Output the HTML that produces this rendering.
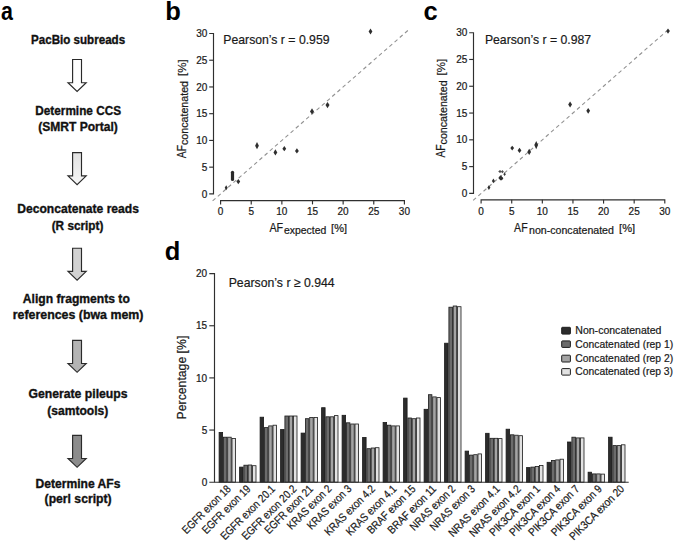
<!DOCTYPE html>
<html><head><meta charset="utf-8"><style>
html,body{margin:0;padding:0;background:#fff;}
svg{display:block;}
text{font-family:"Liberation Sans", sans-serif;}
</style></head><body>
<svg width="675" height="542" viewBox="0 0 675 542" font-family='"Liberation Sans", sans-serif'><text transform="translate(1.0,19.9) scale(0.84,1)" font-size="25.5" font-weight="bold" fill="#000">a</text>
<text x="165.20" y="20.10" font-size="25.5" font-weight="bold" fill="#000" >b</text>
<text x="423.60" y="20.30" font-size="25.5" font-weight="bold" fill="#000" >c</text>
<text x="164.80" y="259.90" font-size="25.5" font-weight="bold" fill="#000" >d</text>
<text x="31.10" y="43.80" font-size="12.3" textLength="94.00" lengthAdjust="spacingAndGlyphs" font-weight="bold" stroke="#111" stroke-width="0.35" fill="#111" >PacBio subreads</text>
<text x="35.30" y="114.60" font-size="12.3" textLength="85.70" lengthAdjust="spacingAndGlyphs" font-weight="bold" stroke="#111" stroke-width="0.35" fill="#111" >Determine CCS</text>
<text x="38.20" y="131.00" font-size="12.3" textLength="79.60" lengthAdjust="spacingAndGlyphs" font-weight="bold" stroke="#111" stroke-width="0.35" fill="#111" >(SMRT Portal)</text>
<text x="17.30" y="212.70" font-size="12.3" textLength="121.60" lengthAdjust="spacingAndGlyphs" font-weight="bold" stroke="#111" stroke-width="0.35" fill="#111" >Deconcatenate reads</text>
<text x="51.70" y="230.00" font-size="12.3" textLength="51.70" lengthAdjust="spacingAndGlyphs" font-weight="bold" stroke="#111" stroke-width="0.35" fill="#111" >(R script)</text>
<text x="22.80" y="303.30" font-size="12.3" textLength="107.00" lengthAdjust="spacingAndGlyphs" font-weight="bold" stroke="#111" stroke-width="0.35" fill="#111" >Align fragments to</text>
<text x="12.80" y="319.40" font-size="12.3" textLength="130.60" lengthAdjust="spacingAndGlyphs" font-weight="bold" stroke="#111" stroke-width="0.35" fill="#111" >references (bwa mem)</text>
<text x="28.40" y="397.70" font-size="12.3" textLength="99.20" lengthAdjust="spacingAndGlyphs" font-weight="bold" stroke="#111" stroke-width="0.35" fill="#111" >Generate pileups</text>
<text x="47.30" y="414.60" font-size="12.3" textLength="61.00" lengthAdjust="spacingAndGlyphs" font-weight="bold" stroke="#111" stroke-width="0.35" fill="#111" >(samtools)</text>
<text x="35.50" y="487.80" font-size="12.3" textLength="85.00" lengthAdjust="spacingAndGlyphs" font-weight="bold" stroke="#111" stroke-width="0.35" fill="#111" >Determine AFs</text>
<text x="44.60" y="503.30" font-size="12.3" textLength="67.00" lengthAdjust="spacingAndGlyphs" font-weight="bold" stroke="#111" stroke-width="0.35" fill="#111" >(perl script)</text>
<defs><linearGradient id="g2" x1="0" y1="0" x2="0" y2="1"><stop offset="0" stop-color="#e2e2e2"/><stop offset="1" stop-color="#f6f6f6"/></linearGradient></defs>
<path d="M72.6,59.5 L81.5,59.5 L81.5,82.7 L86.2,82.7 L77.1,91.5 L68.0,82.7 L72.6,82.7 Z" fill="#ffffff" stroke="#2a2a2a" stroke-width="1.15" stroke-linejoin="miter"/>
<path d="M72.6,152.6 L81.5,152.6 L81.5,175.8 L86.2,175.8 L77.1,184.6 L68.0,175.8 L72.6,175.8 Z" fill="url(#g2)" stroke="#2a2a2a" stroke-width="1.15" stroke-linejoin="miter"/>
<path d="M72.6,248.2 L81.5,248.2 L81.5,271.4 L86.2,271.4 L77.1,280.2 L68.0,271.4 L72.6,271.4 Z" fill="#d2d2d2" stroke="#2a2a2a" stroke-width="1.15" stroke-linejoin="miter"/>
<path d="M72.6,340.3 L81.5,340.3 L81.5,363.5 L86.2,363.5 L77.1,372.3 L68.0,363.5 L72.6,363.5 Z" fill="#b4b4b4" stroke="#2a2a2a" stroke-width="1.15" stroke-linejoin="miter"/>
<path d="M72.6,435.3 L81.5,435.3 L81.5,458.5 L86.2,458.5 L77.1,467.3 L68.0,458.5 L72.6,458.5 Z" fill="#8c8c8c" stroke="#2a2a2a" stroke-width="1.15" stroke-linejoin="miter"/>
<path d="M209.2,33.5 H213.5 V193.9 H209.2" fill="none" stroke="#2f2f2f" stroke-width="1.15"/>
<line x1="209.2" y1="167.16" x2="213.5" y2="167.16" stroke="#2f2f2f" stroke-width="1.15"/>
<line x1="209.2" y1="140.43" x2="213.5" y2="140.43" stroke="#2f2f2f" stroke-width="1.15"/>
<line x1="209.2" y1="113.69" x2="213.5" y2="113.69" stroke="#2f2f2f" stroke-width="1.15"/>
<line x1="209.2" y1="86.96" x2="213.5" y2="86.96" stroke="#2f2f2f" stroke-width="1.15"/>
<line x1="209.2" y1="60.22" x2="213.5" y2="60.22" stroke="#2f2f2f" stroke-width="1.15"/>
<text x="207.30" y="197.50" font-size="10" text-anchor="end" stroke="#1a1a1a" stroke-width="0.22" fill="#1a1a1a" >0</text>
<text x="207.30" y="170.76" font-size="10" text-anchor="end" stroke="#1a1a1a" stroke-width="0.22" fill="#1a1a1a" >5</text>
<text x="207.30" y="144.03" font-size="10" text-anchor="end" stroke="#1a1a1a" stroke-width="0.22" fill="#1a1a1a" >10</text>
<text x="207.30" y="117.29" font-size="10" text-anchor="end" stroke="#1a1a1a" stroke-width="0.22" fill="#1a1a1a" >15</text>
<text x="207.30" y="90.56" font-size="10" text-anchor="end" stroke="#1a1a1a" stroke-width="0.22" fill="#1a1a1a" >20</text>
<text x="207.30" y="63.82" font-size="10" text-anchor="end" stroke="#1a1a1a" stroke-width="0.22" fill="#1a1a1a" >25</text>
<text x="207.30" y="37.09" font-size="10" text-anchor="end" stroke="#1a1a1a" stroke-width="0.22" fill="#1a1a1a" >30</text>
<path d="M220.6,204.4 V200.6 H404.4 V204.4" fill="none" stroke="#2f2f2f" stroke-width="1.15"/>
<line x1="251.23" y1="200.6" x2="251.23" y2="204.4" stroke="#2f2f2f" stroke-width="1.15"/>
<line x1="281.87" y1="200.6" x2="281.87" y2="204.4" stroke="#2f2f2f" stroke-width="1.15"/>
<line x1="312.50" y1="200.6" x2="312.50" y2="204.4" stroke="#2f2f2f" stroke-width="1.15"/>
<line x1="343.14" y1="200.6" x2="343.14" y2="204.4" stroke="#2f2f2f" stroke-width="1.15"/>
<line x1="373.77" y1="200.6" x2="373.77" y2="204.4" stroke="#2f2f2f" stroke-width="1.15"/>
<text x="220.60" y="214.90" font-size="10" text-anchor="middle" stroke="#1a1a1a" stroke-width="0.22" fill="#1a1a1a" >0</text>
<text x="251.23" y="214.90" font-size="10" text-anchor="middle" stroke="#1a1a1a" stroke-width="0.22" fill="#1a1a1a" >5</text>
<text x="281.87" y="214.90" font-size="10" text-anchor="middle" stroke="#1a1a1a" stroke-width="0.22" fill="#1a1a1a" >10</text>
<text x="312.50" y="214.90" font-size="10" text-anchor="middle" stroke="#1a1a1a" stroke-width="0.22" fill="#1a1a1a" >15</text>
<text x="343.14" y="214.90" font-size="10" text-anchor="middle" stroke="#1a1a1a" stroke-width="0.22" fill="#1a1a1a" >20</text>
<text x="373.77" y="214.90" font-size="10" text-anchor="middle" stroke="#1a1a1a" stroke-width="0.22" fill="#1a1a1a" >25</text>
<text x="404.41" y="214.90" font-size="10" text-anchor="middle" stroke="#1a1a1a" stroke-width="0.22" fill="#1a1a1a" >30</text>
<line x1="212.63" y1="200.85" x2="409.92" y2="28.68" stroke="#929292" stroke-width="1.1" stroke-dasharray="3.8 3.1"/>
<path d="M370.50,28.60 L372.40,31.60 L370.50,34.60 L368.60,31.60 Z" fill="#2e2e2e"/>
<path d="M327.50,102.00 L329.50,105.10 L327.50,108.20 L325.50,105.10 Z" fill="#2e2e2e"/>
<path d="M312.00,108.30 L314.00,111.40 L312.00,114.50 L310.00,111.40 Z" fill="#2e2e2e"/>
<path d="M257.00,142.10 L258.90,145.70 L257.00,149.30 L255.10,145.70 Z" fill="#2e2e2e"/>
<path d="M275.40,149.30 L277.30,152.40 L275.40,155.50 L273.50,152.40 Z" fill="#2e2e2e"/>
<path d="M284.30,146.10 L286.20,148.70 L284.30,151.30 L282.40,148.70 Z" fill="#2e2e2e"/>
<path d="M296.90,148.30 L298.80,150.90 L296.90,153.50 L295.00,150.90 Z" fill="#2e2e2e"/>
<rect x="230.90" y="170.70" width="3.20" height="10.40" rx="1.60" fill="#2a2a2a"/>
<path d="M238.30,179.00 L240.20,181.60 L238.30,184.20 L236.40,181.60 Z" fill="#2e2e2e"/>
<path d="M226.20,185.30 L227.70,187.80 L226.20,190.30 L224.70,187.80 Z" fill="#2e2e2e"/>
<text x="223.30" y="43.70" font-size="12.9" textLength="106.20" lengthAdjust="spacingAndGlyphs" stroke="#1a1a1a" stroke-width="0.2" fill="#1a1a1a" >Pearson&#8217;s r = 0.959</text>
<text x="269.40" y="232.20" font-size="12.5" textLength="13.70" lengthAdjust="spacingAndGlyphs" stroke="#1a1a1a" stroke-width="0.22" fill="#1a1a1a" >AF</text>
<text x="284.00" y="234.20" font-size="10.3" textLength="42.30" lengthAdjust="spacingAndGlyphs" stroke="#1a1a1a" stroke-width="0.22" fill="#1a1a1a" >expected</text>
<text x="331.10" y="232.20" font-size="11.5" textLength="15.90" lengthAdjust="spacingAndGlyphs" stroke="#1a1a1a" stroke-width="0.22" fill="#1a1a1a" >[%]</text>
<text transform="translate(185.70,158.20) rotate(-90)" font-size="12.5" fill="#1a1a1a" stroke="#1a1a1a" stroke-width="0.22" textLength="13.20" lengthAdjust="spacingAndGlyphs">AF</text>
<text transform="translate(188.00,145.00) rotate(-90)" font-size="10.3" fill="#1a1a1a" stroke="#1a1a1a" stroke-width="0.22" textLength="64.00" lengthAdjust="spacingAndGlyphs">concatenated</text>
<text transform="translate(185.70,76.00) rotate(-90)" font-size="11.5" fill="#1a1a1a" stroke="#1a1a1a" stroke-width="0.22" textLength="16.60" lengthAdjust="spacingAndGlyphs">[%]</text>
<path d="M469.2,32.7 H473.5 V193.4 H469.2" fill="none" stroke="#2f2f2f" stroke-width="1.15"/>
<line x1="469.2" y1="166.62" x2="473.5" y2="166.62" stroke="#2f2f2f" stroke-width="1.15"/>
<line x1="469.2" y1="139.83" x2="473.5" y2="139.83" stroke="#2f2f2f" stroke-width="1.15"/>
<line x1="469.2" y1="113.05" x2="473.5" y2="113.05" stroke="#2f2f2f" stroke-width="1.15"/>
<line x1="469.2" y1="86.26" x2="473.5" y2="86.26" stroke="#2f2f2f" stroke-width="1.15"/>
<line x1="469.2" y1="59.47" x2="473.5" y2="59.47" stroke="#2f2f2f" stroke-width="1.15"/>
<text x="467.30" y="197.00" font-size="10" text-anchor="end" stroke="#1a1a1a" stroke-width="0.22" fill="#1a1a1a" >0</text>
<text x="467.30" y="170.22" font-size="10" text-anchor="end" stroke="#1a1a1a" stroke-width="0.22" fill="#1a1a1a" >5</text>
<text x="467.30" y="143.43" font-size="10" text-anchor="end" stroke="#1a1a1a" stroke-width="0.22" fill="#1a1a1a" >10</text>
<text x="467.30" y="116.64" font-size="10" text-anchor="end" stroke="#1a1a1a" stroke-width="0.22" fill="#1a1a1a" >15</text>
<text x="467.30" y="89.86" font-size="10" text-anchor="end" stroke="#1a1a1a" stroke-width="0.22" fill="#1a1a1a" >20</text>
<text x="467.30" y="63.07" font-size="10" text-anchor="end" stroke="#1a1a1a" stroke-width="0.22" fill="#1a1a1a" >25</text>
<text x="467.30" y="36.29" font-size="10" text-anchor="end" stroke="#1a1a1a" stroke-width="0.22" fill="#1a1a1a" >30</text>
<path d="M481.1,203.60000000000002 V199.8 H664.8 V203.60000000000002" fill="none" stroke="#2f2f2f" stroke-width="1.15"/>
<line x1="511.72" y1="199.8" x2="511.72" y2="203.60000000000002" stroke="#2f2f2f" stroke-width="1.15"/>
<line x1="542.33" y1="199.8" x2="542.33" y2="203.60000000000002" stroke="#2f2f2f" stroke-width="1.15"/>
<line x1="572.95" y1="199.8" x2="572.95" y2="203.60000000000002" stroke="#2f2f2f" stroke-width="1.15"/>
<line x1="603.56" y1="199.8" x2="603.56" y2="203.60000000000002" stroke="#2f2f2f" stroke-width="1.15"/>
<line x1="634.18" y1="199.8" x2="634.18" y2="203.60000000000002" stroke="#2f2f2f" stroke-width="1.15"/>
<text x="481.10" y="214.90" font-size="10" text-anchor="middle" stroke="#1a1a1a" stroke-width="0.22" fill="#1a1a1a" >0</text>
<text x="511.72" y="214.90" font-size="10" text-anchor="middle" stroke="#1a1a1a" stroke-width="0.22" fill="#1a1a1a" >5</text>
<text x="542.33" y="214.90" font-size="10" text-anchor="middle" stroke="#1a1a1a" stroke-width="0.22" fill="#1a1a1a" >10</text>
<text x="572.95" y="214.90" font-size="10" text-anchor="middle" stroke="#1a1a1a" stroke-width="0.22" fill="#1a1a1a" >15</text>
<text x="603.56" y="214.90" font-size="10" text-anchor="middle" stroke="#1a1a1a" stroke-width="0.22" fill="#1a1a1a" >20</text>
<text x="634.18" y="214.90" font-size="10" text-anchor="middle" stroke="#1a1a1a" stroke-width="0.22" fill="#1a1a1a" >25</text>
<text x="664.79" y="214.90" font-size="10" text-anchor="middle" stroke="#1a1a1a" stroke-width="0.22" fill="#1a1a1a" >30</text>
<line x1="473.14" y1="200.36" x2="666.63" y2="31.08" stroke="#929292" stroke-width="1.1" stroke-dasharray="3.8 3.1"/>
<path d="M668.00,28.40 L669.90,31.10 L668.00,33.80 L666.10,31.10 Z" fill="#2e2e2e"/>
<path d="M570.10,101.60 L572.00,104.50 L570.10,107.40 L568.20,104.50 Z" fill="#2e2e2e"/>
<path d="M588.20,107.90 L590.10,110.80 L588.20,113.70 L586.30,110.80 Z" fill="#2e2e2e"/>
<path d="M512.20,145.70 L514.10,148.10 L512.20,150.50 L510.30,148.10 Z" fill="#2e2e2e"/>
<path d="M519.50,147.80 L521.40,150.40 L519.50,153.00 L517.60,150.40 Z" fill="#2e2e2e"/>
<path d="M529.20,148.80 L531.10,151.90 L529.20,155.00 L527.30,151.90 Z" fill="#2e2e2e"/>
<path d="M536.20,140.90 L538.10,145.10 L536.20,149.30 L534.30,145.10 Z" fill="#2e2e2e"/>
<path d="M500.00,169.90 L501.80,171.50 L500.00,173.10 L498.20,171.50 Z" fill="#505050"/>
<path d="M502.40,170.10 L503.90,171.70 L502.40,173.30 L500.90,171.70 Z" fill="#505050"/>
<path d="M504.60,172.50 L505.90,174.30 L504.60,176.10 L503.30,174.30 Z" fill="#3a3a3a"/>
<path d="M500.60,175.30 L502.90,177.90 L500.60,180.50 L498.30,177.90 Z" fill="#2e2e2e"/>
<path d="M501.60,176.20 L503.40,178.40 L501.60,180.60 L499.80,178.40 Z" fill="#2e2e2e"/>
<path d="M493.40,178.50 L494.90,180.90 L493.40,183.30 L491.90,180.90 Z" fill="#2e2e2e"/>
<path d="M488.90,185.30 L490.40,187.60 L488.90,189.90 L487.40,187.60 Z" fill="#2e2e2e"/>
<text x="484.90" y="43.70" font-size="12.9" textLength="106.20" lengthAdjust="spacingAndGlyphs" stroke="#1a1a1a" stroke-width="0.2" fill="#1a1a1a" >Pearson&#8217;s r = 0.987</text>
<text x="514.10" y="232.10" font-size="12.5" textLength="13.50" lengthAdjust="spacingAndGlyphs" stroke="#1a1a1a" stroke-width="0.22" fill="#1a1a1a" >AF</text>
<text x="529.10" y="234.40" font-size="10.3" textLength="84.80" lengthAdjust="spacingAndGlyphs" stroke="#1a1a1a" stroke-width="0.22" fill="#1a1a1a" >non-concatenated</text>
<text x="619.10" y="232.10" font-size="11.5" textLength="16.00" lengthAdjust="spacingAndGlyphs" stroke="#1a1a1a" stroke-width="0.22" fill="#1a1a1a" >[%]</text>
<text transform="translate(444.60,157.60) rotate(-90)" font-size="12.5" fill="#1a1a1a" stroke="#1a1a1a" stroke-width="0.22" textLength="13.20" lengthAdjust="spacingAndGlyphs">AF</text>
<text transform="translate(446.90,144.40) rotate(-90)" font-size="10.3" fill="#1a1a1a" stroke="#1a1a1a" stroke-width="0.22" textLength="64.00" lengthAdjust="spacingAndGlyphs">concatenated</text>
<text transform="translate(444.60,75.40) rotate(-90)" font-size="11.5" fill="#1a1a1a" stroke="#1a1a1a" stroke-width="0.22" textLength="16.60" lengthAdjust="spacingAndGlyphs">[%]</text>
<path d="M209.3,273.6 H214.5 V482.2" fill="none" stroke="#2f2f2f" stroke-width="1.15"/>
<line x1="209.3" y1="430.05" x2="214.5" y2="430.05" stroke="#2f2f2f" stroke-width="1.15"/>
<line x1="209.3" y1="377.90" x2="214.5" y2="377.90" stroke="#2f2f2f" stroke-width="1.15"/>
<line x1="209.3" y1="325.75" x2="214.5" y2="325.75" stroke="#2f2f2f" stroke-width="1.15"/>
<text x="207.20" y="485.80" font-size="10" text-anchor="end" stroke="#1a1a1a" stroke-width="0.22" fill="#1a1a1a" >0</text>
<text x="207.20" y="433.65" font-size="10" text-anchor="end" stroke="#1a1a1a" stroke-width="0.22" fill="#1a1a1a" >5</text>
<text x="207.20" y="381.50" font-size="10" text-anchor="end" stroke="#1a1a1a" stroke-width="0.22" fill="#1a1a1a" >10</text>
<text x="207.20" y="329.35" font-size="10" text-anchor="end" stroke="#1a1a1a" stroke-width="0.22" fill="#1a1a1a" >15</text>
<text x="207.20" y="277.20" font-size="10" text-anchor="end" stroke="#1a1a1a" stroke-width="0.22" fill="#1a1a1a" >20</text>
<text x="228.70" y="286.80" font-size="12.9" textLength="106.00" lengthAdjust="spacingAndGlyphs" stroke="#1a1a1a" stroke-width="0.2" fill="#1a1a1a" >Pearson&#8217;s r &#8805; 0.944</text>
<text transform="translate(185.7,419.4) rotate(-90)" font-size="12.3" fill="#1a1a1a" stroke="#1a1a1a" stroke-width="0.22" textLength="83.7" lengthAdjust="spacingAndGlyphs">Percentage [%]</text>
<rect x="219.10" y="432.40" width="3.50" height="49.80" fill="#2c2c2c" stroke="#1a1a1a" stroke-width="0.8"/>
<rect x="223.40" y="437.20" width="3.50" height="45.00" fill="#6c6c6c" stroke="#1a1a1a" stroke-width="0.8"/>
<rect x="227.70" y="437.20" width="3.50" height="45.00" fill="#a4a4a4" stroke="#1a1a1a" stroke-width="0.8"/>
<rect x="232.00" y="438.40" width="3.50" height="43.80" fill="#e2e2e2" stroke="#1a1a1a" stroke-width="0.8"/>
<text transform="translate(231.50,489.6) rotate(-45)" font-size="11.2" fill="#1a1a1a" stroke="#1a1a1a" stroke-width="0.22" text-anchor="end" textLength="63.50" lengthAdjust="spacingAndGlyphs">EGFR exon 18</text>
<rect x="239.60" y="467.10" width="3.50" height="15.10" fill="#2c2c2c" stroke="#1a1a1a" stroke-width="0.8"/>
<rect x="243.90" y="465.20" width="3.50" height="17.00" fill="#6c6c6c" stroke="#1a1a1a" stroke-width="0.8"/>
<rect x="248.20" y="465.00" width="3.50" height="17.20" fill="#a4a4a4" stroke="#1a1a1a" stroke-width="0.8"/>
<rect x="252.50" y="465.70" width="3.50" height="16.50" fill="#e2e2e2" stroke="#1a1a1a" stroke-width="0.8"/>
<text transform="translate(251.30,489.6) rotate(-45)" font-size="11.2" fill="#1a1a1a" stroke="#1a1a1a" stroke-width="0.22" text-anchor="end" textLength="63.50" lengthAdjust="spacingAndGlyphs">EGFR exon 19</text>
<rect x="260.10" y="417.20" width="3.50" height="65.00" fill="#2c2c2c" stroke="#1a1a1a" stroke-width="0.8"/>
<rect x="264.40" y="427.60" width="3.50" height="54.60" fill="#6c6c6c" stroke="#1a1a1a" stroke-width="0.8"/>
<rect x="268.70" y="425.90" width="3.50" height="56.30" fill="#a4a4a4" stroke="#1a1a1a" stroke-width="0.8"/>
<rect x="273.00" y="425.20" width="3.50" height="57.00" fill="#e2e2e2" stroke="#1a1a1a" stroke-width="0.8"/>
<text transform="translate(275.90,489.6) rotate(-45)" font-size="11.2" fill="#1a1a1a" stroke="#1a1a1a" stroke-width="0.22" text-anchor="end" textLength="72.15" lengthAdjust="spacingAndGlyphs">EGFR exon 20.1</text>
<rect x="280.60" y="429.50" width="3.50" height="52.70" fill="#2c2c2c" stroke="#1a1a1a" stroke-width="0.8"/>
<rect x="284.90" y="416.00" width="3.50" height="66.20" fill="#6c6c6c" stroke="#1a1a1a" stroke-width="0.8"/>
<rect x="289.20" y="416.00" width="3.50" height="66.20" fill="#a4a4a4" stroke="#1a1a1a" stroke-width="0.8"/>
<rect x="293.50" y="416.00" width="3.50" height="66.20" fill="#e2e2e2" stroke="#1a1a1a" stroke-width="0.8"/>
<text transform="translate(297.20,489.6) rotate(-45)" font-size="11.2" fill="#1a1a1a" stroke="#1a1a1a" stroke-width="0.22" text-anchor="end" textLength="72.15" lengthAdjust="spacingAndGlyphs">EGFR exon 20.2</text>
<rect x="301.10" y="433.10" width="3.50" height="49.10" fill="#2c2c2c" stroke="#1a1a1a" stroke-width="0.8"/>
<rect x="305.40" y="418.70" width="3.50" height="63.50" fill="#6c6c6c" stroke="#1a1a1a" stroke-width="0.8"/>
<rect x="309.70" y="417.50" width="3.50" height="64.70" fill="#a4a4a4" stroke="#1a1a1a" stroke-width="0.8"/>
<rect x="314.00" y="417.50" width="3.50" height="64.70" fill="#e2e2e2" stroke="#1a1a1a" stroke-width="0.8"/>
<text transform="translate(313.80,489.6) rotate(-45)" font-size="11.2" fill="#1a1a1a" stroke="#1a1a1a" stroke-width="0.22" text-anchor="end" textLength="63.50" lengthAdjust="spacingAndGlyphs">EGFR exon 21</text>
<rect x="321.60" y="407.70" width="3.50" height="74.50" fill="#2c2c2c" stroke="#1a1a1a" stroke-width="0.8"/>
<rect x="325.90" y="416.80" width="3.50" height="65.40" fill="#6c6c6c" stroke="#1a1a1a" stroke-width="0.8"/>
<rect x="330.20" y="416.80" width="3.50" height="65.40" fill="#a4a4a4" stroke="#1a1a1a" stroke-width="0.8"/>
<rect x="334.50" y="415.60" width="3.50" height="66.60" fill="#e2e2e2" stroke="#1a1a1a" stroke-width="0.8"/>
<text transform="translate(332.20,489.6) rotate(-45)" font-size="11.2" fill="#1a1a1a" stroke="#1a1a1a" stroke-width="0.22" text-anchor="end" textLength="57.49" lengthAdjust="spacingAndGlyphs">KRAS exon 2</text>
<rect x="342.10" y="415.30" width="3.50" height="66.90" fill="#2c2c2c" stroke="#1a1a1a" stroke-width="0.8"/>
<rect x="346.40" y="422.80" width="3.50" height="59.40" fill="#6c6c6c" stroke="#1a1a1a" stroke-width="0.8"/>
<rect x="350.70" y="424.00" width="3.50" height="58.20" fill="#a4a4a4" stroke="#1a1a1a" stroke-width="0.8"/>
<rect x="355.00" y="424.00" width="3.50" height="58.20" fill="#e2e2e2" stroke="#1a1a1a" stroke-width="0.8"/>
<text transform="translate(352.20,489.6) rotate(-45)" font-size="11.2" fill="#1a1a1a" stroke="#1a1a1a" stroke-width="0.22" text-anchor="end" textLength="57.49" lengthAdjust="spacingAndGlyphs">KRAS exon 3</text>
<rect x="362.60" y="437.40" width="3.50" height="44.80" fill="#2c2c2c" stroke="#1a1a1a" stroke-width="0.8"/>
<rect x="366.90" y="448.70" width="3.50" height="33.50" fill="#6c6c6c" stroke="#1a1a1a" stroke-width="0.8"/>
<rect x="371.20" y="448.00" width="3.50" height="34.20" fill="#a4a4a4" stroke="#1a1a1a" stroke-width="0.8"/>
<rect x="375.50" y="447.70" width="3.50" height="34.50" fill="#e2e2e2" stroke="#1a1a1a" stroke-width="0.8"/>
<text transform="translate(375.70,489.6) rotate(-45)" font-size="11.2" fill="#1a1a1a" stroke="#1a1a1a" stroke-width="0.22" text-anchor="end" textLength="66.14" lengthAdjust="spacingAndGlyphs">KRAS exon 4.2</text>
<rect x="383.10" y="422.50" width="3.50" height="59.70" fill="#2c2c2c" stroke="#1a1a1a" stroke-width="0.8"/>
<rect x="387.40" y="425.20" width="3.50" height="57.00" fill="#6c6c6c" stroke="#1a1a1a" stroke-width="0.8"/>
<rect x="391.70" y="425.90" width="3.50" height="56.30" fill="#a4a4a4" stroke="#1a1a1a" stroke-width="0.8"/>
<rect x="396.00" y="425.90" width="3.50" height="56.30" fill="#e2e2e2" stroke="#1a1a1a" stroke-width="0.8"/>
<text transform="translate(397.30,489.6) rotate(-45)" font-size="11.2" fill="#1a1a1a" stroke="#1a1a1a" stroke-width="0.22" text-anchor="end" textLength="66.14" lengthAdjust="spacingAndGlyphs">KRAS exon 4.1</text>
<rect x="403.60" y="398.10" width="3.50" height="84.10" fill="#2c2c2c" stroke="#1a1a1a" stroke-width="0.8"/>
<rect x="407.90" y="418.00" width="3.50" height="64.20" fill="#6c6c6c" stroke="#1a1a1a" stroke-width="0.8"/>
<rect x="412.20" y="418.70" width="3.50" height="63.50" fill="#a4a4a4" stroke="#1a1a1a" stroke-width="0.8"/>
<rect x="416.50" y="418.00" width="3.50" height="64.20" fill="#e2e2e2" stroke="#1a1a1a" stroke-width="0.8"/>
<text transform="translate(416.30,489.6) rotate(-45)" font-size="11.2" fill="#1a1a1a" stroke="#1a1a1a" stroke-width="0.22" text-anchor="end" textLength="63.54" lengthAdjust="spacingAndGlyphs">BRAF exon 15</text>
<rect x="424.10" y="409.30" width="3.50" height="72.90" fill="#2c2c2c" stroke="#1a1a1a" stroke-width="0.8"/>
<rect x="428.40" y="394.70" width="3.50" height="87.50" fill="#6c6c6c" stroke="#1a1a1a" stroke-width="0.8"/>
<rect x="432.70" y="396.90" width="3.50" height="85.30" fill="#a4a4a4" stroke="#1a1a1a" stroke-width="0.8"/>
<rect x="437.00" y="397.60" width="3.50" height="84.60" fill="#e2e2e2" stroke="#1a1a1a" stroke-width="0.8"/>
<text transform="translate(437.00,489.6) rotate(-45)" font-size="11.2" fill="#1a1a1a" stroke="#1a1a1a" stroke-width="0.22" text-anchor="end" textLength="63.54" lengthAdjust="spacingAndGlyphs">BRAF exon 11</text>
<rect x="444.60" y="343.20" width="3.50" height="139.00" fill="#2c2c2c" stroke="#1a1a1a" stroke-width="0.8"/>
<rect x="448.90" y="307.20" width="3.50" height="175.00" fill="#6c6c6c" stroke="#1a1a1a" stroke-width="0.8"/>
<rect x="453.20" y="306.00" width="3.50" height="176.20" fill="#a4a4a4" stroke="#1a1a1a" stroke-width="0.8"/>
<rect x="457.50" y="306.70" width="3.50" height="175.50" fill="#e2e2e2" stroke="#1a1a1a" stroke-width="0.8"/>
<text transform="translate(456.00,489.6) rotate(-45)" font-size="11.2" fill="#1a1a1a" stroke="#1a1a1a" stroke-width="0.22" text-anchor="end" textLength="58.93" lengthAdjust="spacingAndGlyphs">NRAS exon 2</text>
<rect x="465.10" y="451.10" width="3.50" height="31.10" fill="#2c2c2c" stroke="#1a1a1a" stroke-width="0.8"/>
<rect x="469.40" y="455.10" width="3.50" height="27.10" fill="#6c6c6c" stroke="#1a1a1a" stroke-width="0.8"/>
<rect x="473.70" y="454.70" width="3.50" height="27.50" fill="#a4a4a4" stroke="#1a1a1a" stroke-width="0.8"/>
<rect x="478.00" y="453.90" width="3.50" height="28.30" fill="#e2e2e2" stroke="#1a1a1a" stroke-width="0.8"/>
<text transform="translate(475.90,489.6) rotate(-45)" font-size="11.2" fill="#1a1a1a" stroke="#1a1a1a" stroke-width="0.22" text-anchor="end" textLength="58.93" lengthAdjust="spacingAndGlyphs">NRAS exon 3</text>
<rect x="485.60" y="433.30" width="3.50" height="48.90" fill="#2c2c2c" stroke="#1a1a1a" stroke-width="0.8"/>
<rect x="489.90" y="438.30" width="3.50" height="43.90" fill="#6c6c6c" stroke="#1a1a1a" stroke-width="0.8"/>
<rect x="494.20" y="438.30" width="3.50" height="43.90" fill="#a4a4a4" stroke="#1a1a1a" stroke-width="0.8"/>
<rect x="498.50" y="438.60" width="3.50" height="43.60" fill="#e2e2e2" stroke="#1a1a1a" stroke-width="0.8"/>
<text transform="translate(500.70,489.6) rotate(-45)" font-size="11.2" fill="#1a1a1a" stroke="#1a1a1a" stroke-width="0.22" text-anchor="end" textLength="67.58" lengthAdjust="spacingAndGlyphs">NRAS exon 4.1</text>
<rect x="506.10" y="429.20" width="3.50" height="53.00" fill="#2c2c2c" stroke="#1a1a1a" stroke-width="0.8"/>
<rect x="510.40" y="434.80" width="3.50" height="47.40" fill="#6c6c6c" stroke="#1a1a1a" stroke-width="0.8"/>
<rect x="514.70" y="435.20" width="3.50" height="47.00" fill="#a4a4a4" stroke="#1a1a1a" stroke-width="0.8"/>
<rect x="519.00" y="435.70" width="3.50" height="46.50" fill="#e2e2e2" stroke="#1a1a1a" stroke-width="0.8"/>
<text transform="translate(521.50,489.6) rotate(-45)" font-size="11.2" fill="#1a1a1a" stroke="#1a1a1a" stroke-width="0.22" text-anchor="end" textLength="67.58" lengthAdjust="spacingAndGlyphs">NRAS exon 4.2</text>
<rect x="526.60" y="467.60" width="3.50" height="14.60" fill="#2c2c2c" stroke="#1a1a1a" stroke-width="0.8"/>
<rect x="530.90" y="467.10" width="3.50" height="15.10" fill="#6c6c6c" stroke="#1a1a1a" stroke-width="0.8"/>
<rect x="535.20" y="466.40" width="3.50" height="15.80" fill="#a4a4a4" stroke="#1a1a1a" stroke-width="0.8"/>
<rect x="539.50" y="465.50" width="3.50" height="16.70" fill="#e2e2e2" stroke="#1a1a1a" stroke-width="0.8"/>
<text transform="translate(540.90,489.6) rotate(-45)" font-size="11.2" fill="#1a1a1a" stroke="#1a1a1a" stroke-width="0.22" text-anchor="end" textLength="66.69" lengthAdjust="spacingAndGlyphs">PIK3CA exon 1</text>
<rect x="547.10" y="462.30" width="3.50" height="19.90" fill="#2c2c2c" stroke="#1a1a1a" stroke-width="0.8"/>
<rect x="551.40" y="460.40" width="3.50" height="21.80" fill="#6c6c6c" stroke="#1a1a1a" stroke-width="0.8"/>
<rect x="555.70" y="459.90" width="3.50" height="22.30" fill="#a4a4a4" stroke="#1a1a1a" stroke-width="0.8"/>
<rect x="560.00" y="459.20" width="3.50" height="23.00" fill="#e2e2e2" stroke="#1a1a1a" stroke-width="0.8"/>
<text transform="translate(561.00,489.6) rotate(-45)" font-size="11.2" fill="#1a1a1a" stroke="#1a1a1a" stroke-width="0.22" text-anchor="end" textLength="66.69" lengthAdjust="spacingAndGlyphs">PIK3CA exon 4</text>
<rect x="567.60" y="442.00" width="3.50" height="40.20" fill="#2c2c2c" stroke="#1a1a1a" stroke-width="0.8"/>
<rect x="571.90" y="437.20" width="3.50" height="45.00" fill="#6c6c6c" stroke="#1a1a1a" stroke-width="0.8"/>
<rect x="576.20" y="437.90" width="3.50" height="44.30" fill="#a4a4a4" stroke="#1a1a1a" stroke-width="0.8"/>
<rect x="580.50" y="437.90" width="3.50" height="44.30" fill="#e2e2e2" stroke="#1a1a1a" stroke-width="0.8"/>
<text transform="translate(580.00,489.6) rotate(-45)" font-size="11.2" fill="#1a1a1a" stroke="#1a1a1a" stroke-width="0.22" text-anchor="end" textLength="66.69" lengthAdjust="spacingAndGlyphs">PIK3CA exon 7</text>
<rect x="588.10" y="472.20" width="3.50" height="10.00" fill="#2c2c2c" stroke="#1a1a1a" stroke-width="0.8"/>
<rect x="592.40" y="473.90" width="3.50" height="8.30" fill="#6c6c6c" stroke="#1a1a1a" stroke-width="0.8"/>
<rect x="596.70" y="473.90" width="3.50" height="8.30" fill="#a4a4a4" stroke="#1a1a1a" stroke-width="0.8"/>
<rect x="601.00" y="474.10" width="3.50" height="8.10" fill="#e2e2e2" stroke="#1a1a1a" stroke-width="0.8"/>
<text transform="translate(602.60,489.6) rotate(-45)" font-size="11.2" fill="#1a1a1a" stroke="#1a1a1a" stroke-width="0.22" text-anchor="end" textLength="66.69" lengthAdjust="spacingAndGlyphs">PIK3CA exon 9</text>
<rect x="608.60" y="437.20" width="3.50" height="45.00" fill="#2c2c2c" stroke="#1a1a1a" stroke-width="0.8"/>
<rect x="612.90" y="445.60" width="3.50" height="36.60" fill="#6c6c6c" stroke="#1a1a1a" stroke-width="0.8"/>
<rect x="617.20" y="445.60" width="3.50" height="36.60" fill="#a4a4a4" stroke="#1a1a1a" stroke-width="0.8"/>
<rect x="621.50" y="444.80" width="3.50" height="37.40" fill="#e2e2e2" stroke="#1a1a1a" stroke-width="0.8"/>
<text transform="translate(625.00,489.6) rotate(-45)" font-size="11.2" fill="#1a1a1a" stroke="#1a1a1a" stroke-width="0.22" text-anchor="end" textLength="72.47" lengthAdjust="spacingAndGlyphs">PIK3CA exon 20</text>
<line x1="209.3" y1="482.2" x2="628.7" y2="482.2" stroke="#2f2f2f" stroke-width="1.15"/>
<rect x="561.7" y="327.30" width="8.7" height="6.80" rx="0.7" fill="#2c2c2c" stroke="#1e1e1e" stroke-width="1"/>
<text x="575.30" y="334.40" font-size="10.9" textLength="86.10" lengthAdjust="spacingAndGlyphs" stroke="#1a1a1a" stroke-width="0.22" fill="#1a1a1a" >Non-concatenated</text>
<rect x="561.7" y="340.90" width="8.7" height="6.50" rx="0.7" fill="#6c6c6c" stroke="#1e1e1e" stroke-width="1"/>
<text x="575.30" y="347.70" font-size="10.9" textLength="97.90" lengthAdjust="spacingAndGlyphs" stroke="#1a1a1a" stroke-width="0.22" fill="#1a1a1a" >Concatenated (rep 1)</text>
<rect x="561.7" y="355.20" width="8.7" height="6.80" rx="0.7" fill="#a4a4a4" stroke="#1e1e1e" stroke-width="1"/>
<text x="575.30" y="362.30" font-size="10.9" textLength="97.90" lengthAdjust="spacingAndGlyphs" stroke="#1a1a1a" stroke-width="0.22" fill="#1a1a1a" >Concatenated (rep 2)</text>
<rect x="561.7" y="368.60" width="8.7" height="6.50" rx="0.7" fill="#e2e2e2" stroke="#1e1e1e" stroke-width="1"/>
<text x="575.30" y="375.40" font-size="10.9" textLength="97.70" lengthAdjust="spacingAndGlyphs" stroke="#1a1a1a" stroke-width="0.22" fill="#1a1a1a" >Concatenated (rep 3)</text></svg>
</body></html>
